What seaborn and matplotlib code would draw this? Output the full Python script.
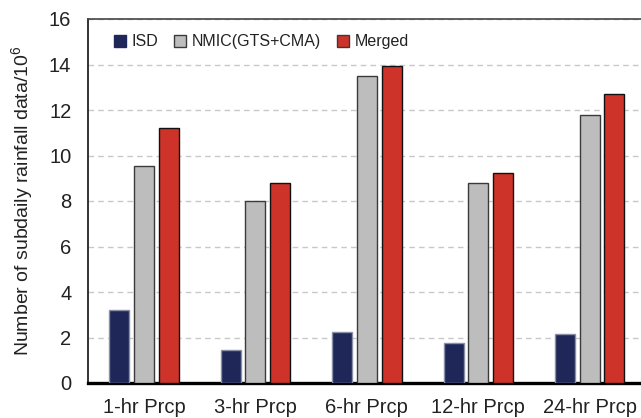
import matplotlib
matplotlib.use("Agg")
import matplotlib.pyplot as plt
from matplotlib.patches import Patch
import seaborn as sns
import pandas as pd

# Subdaily rainfall record counts (millions) by accumulation period and source
categories = ["1-hr Prcp", "3-hr Prcp", "6-hr Prcp", "12-hr Prcp", "24-hr Prcp"]
sources = ["ISD", "NMIC(GTS+CMA)", "Merged"]
isd = [3.22, 1.45, 2.22, 1.78, 2.14]
nmic = [9.56, 8.01, 13.51, 8.78, 11.78]
merged = [11.21, 8.77, 13.92, 9.25, 12.71]
y_ticks = [0, 2, 4, 6, 8, 10, 12, 14, 16]

fill_colors = ["#1f2758", "#bebdbd", "#cd3329"]
edge_colors = ["#8a8fa8", "#3a3a3a", "#111111"]

df = pd.DataFrame({
    "period": categories * 3,
    "source": [sources[0]] * 5 + [sources[1]] * 5 + [sources[2]] * 5,
    "count": isd + nmic + merged,
})

sns.set_theme(style="white")
plt.rcParams["font.family"] = ["Liberation Sans", "DejaVu Sans"]
plt.rcParams["mathtext.fontset"] = "custom"
plt.rcParams["mathtext.rm"] = "Liberation Sans"
plt.rcParams["mathtext.it"] = "Liberation Sans:italic"

fig = plt.figure(figsize=(6.41, 4.18), dpi=100)
ax = fig.add_axes([88 / 641, 35 / 418, 553 / 641, 364 / 418])

sns.barplot(data=df, x="period", y="count", hue="source", order=categories,
            hue_order=sources, palette=fill_colors, saturation=1,
            width=0.666, gap=0.19, ax=ax, zorder=3, legend=False)

for container, ec in zip(ax.containers, edge_colors):
    for bar in container:
        bar.set_edgecolor(ec)
        bar.set_linewidth(1.0)

ax.set_ylim(0, 16)
ax.set_xlim(-0.502, 4.46)
ax.set_yticks(y_ticks)
ax.yaxis.grid(True, linestyle=(0, (4, 3)), color="#c8c8c8", linewidth=1.0, zorder=0)
ax.set_axisbelow(True)

ax.spines["right"].set_visible(False)
ax.spines["left"].set_color("#111111")
ax.spines["left"].set_linewidth(1.2)
ax.spines["top"].set_color("#444444")
ax.spines["top"].set_linewidth(1.2)
ax.spines["bottom"].set_color("#000000")
ax.spines["bottom"].set_linewidth(2.4)

ax.tick_params(axis="both", length=0, labelsize=14.5, colors="#222222")
ax.tick_params(axis="y", pad=12)
ax.tick_params(axis="x", pad=11)

ax.set_xlabel("")
ax.set_ylabel("Number of subdaily rainfall data/10$^{6}$", fontsize=14,
              color="#222222", labelpad=10)

handles = [Patch(facecolor=fc, edgecolor=ec, linewidth=1.0)
           for fc, ec in zip(fill_colors, ["#1f2758", "#3a3a3a", "#3a3a3a"])]
ax.legend(handles, sources, loc="upper left", bbox_to_anchor=(0.035, 0.975),
          ncol=3, frameon=False, fontsize=11.5, handlelength=0.75,
          handleheight=0.75, handletextpad=0.35, columnspacing=1.0,
          labelcolor="#222222", borderaxespad=0)

fig.savefig("out.png", dpi=100)
